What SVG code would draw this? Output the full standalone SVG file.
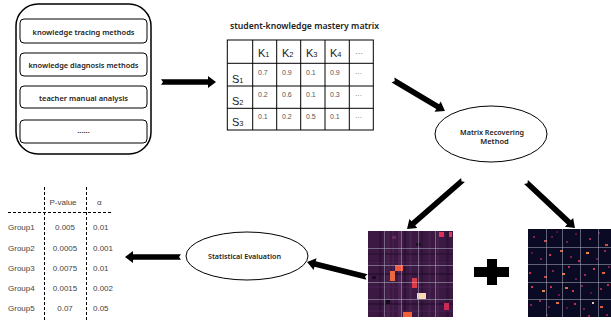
<svg xmlns="http://www.w3.org/2000/svg" width="611" height="320" viewBox="0 0 611 320">
<style>
.box{fill:#fff;stroke:#000;stroke-width:1}
.nt{font-family:"Noto Sans","DejaVu Sans",sans-serif;font-size:7.5px;font-weight:600;fill:#222;text-anchor:middle;dominant-baseline:central}
.mt{font-family:"Liberation Sans",Arial,sans-serif;fill:#222}
.hd{font-size:11px}
.sb{font-size:7.5px}
.val{font-family:"Liberation Sans",Arial,sans-serif;font-size:7px;fill:#555}
.tt{font-family:"Liberation Sans","Noto Sans CJK SC",sans-serif;font-size:8px;fill:#444;dominant-baseline:central}
.arr{fill:#000}
.grid{stroke:#b8b8c8;stroke-opacity:0.5;stroke-width:1}
.dash{stroke:#000;stroke-width:1;stroke-dasharray:3,2;fill:none}
.ml{stroke:#000;stroke-width:1;fill:none}
</style>

<g id="sources">
<rect x="16" y="4" width="135" height="150" rx="22" ry="22" fill="#fff" stroke="#000" stroke-width="1.5"/>
<rect class="box" x="20" y="19" width="127" height="24" rx="4"/>
<text class="nt" x="83.5" y="31.5" textLength="102" lengthAdjust="spacingAndGlyphs">knowledge tracing methods</text>
<rect class="box" x="20" y="53" width="127" height="23" rx="4"/>
<text class="nt" x="83.5" y="64.5" textLength="110" lengthAdjust="spacingAndGlyphs">knowledge diagnosis methods</text>
<rect class="box" x="20" y="86" width="127" height="22" rx="4"/>
<text class="nt" x="83.5" y="98" textLength="89" lengthAdjust="spacingAndGlyphs">teacher manual analysis</text>
<rect class="box" x="20" y="120" width="127" height="23" rx="4"/>
<text class="nt" x="83.5" y="130">......</text>
</g>

<g id="matrix">
<text x="230" y="25" font-family="'Noto Sans','DejaVu Sans',sans-serif" font-size="8.5px" font-weight="600" fill="#222" dominant-baseline="central" textLength="149" lengthAdjust="spacingAndGlyphs">student-knowledge mastery matrix</text>
<rect x="227.3" y="40" width="146" height="90" fill="#fff" stroke="#000" stroke-width="1"/>
<path class="ml" d="M252.7,40V130M276.7,40V130M300.7,40V130M325,40V130M349.3,40V130M227.3,63.3H373.3M227.3,86H373.3M227.3,108.3H373.3"/>
<g class="mt">
<text x="258" y="57"><tspan class="hd">K</tspan><tspan class="sb">1</tspan></text>
<text x="282" y="57"><tspan class="hd">K</tspan><tspan class="sb">2</tspan></text>
<text x="306" y="57"><tspan class="hd">K</tspan><tspan class="sb">3</tspan></text>
<text x="330" y="57"><tspan class="hd">K</tspan><tspan class="sb">4</tspan></text>
<text x="355" y="56" font-size="8" fill="#555">···</text>
<text x="232" y="83"><tspan class="hd">S</tspan><tspan class="sb">1</tspan></text>
<text x="232" y="105"><tspan class="hd">S</tspan><tspan class="sb">2</tspan></text>
<text x="232" y="126"><tspan class="hd">S</tspan><tspan class="sb">3</tspan></text>
</g>
<g class="val">
<text x="258" y="75">0.7</text><text x="282" y="75">0.9</text><text x="306" y="75">0.1</text><text x="330" y="75">0.9</text><text x="355" y="76">···</text>
<text x="258" y="97">0.2</text><text x="282" y="97">0.6</text><text x="306" y="97">0.1</text><text x="330" y="97">0.3</text><text x="355" y="98">···</text>
<text x="258" y="119">0.1</text><text x="282" y="119">0.2</text><text x="306" y="119">0.5</text><text x="330" y="119">0.1</text><text x="355" y="120">···</text>
</g>
</g>

<g id="recover">
<ellipse cx="491" cy="134" rx="56" ry="28" fill="#fff" stroke="#000" stroke-width="1"/>
<text class="nt" x="492" y="131.5" font-size="7px" textLength="64" lengthAdjust="spacingAndGlyphs">Matrix Recovering</text>
<text class="nt" x="494.5" y="141" font-size="7px">Method</text>
</g>

<g id="stat">
<ellipse cx="247" cy="256" rx="61" ry="24" fill="#fff" stroke="#000" stroke-width="1"/>
<text class="nt" x="244.5" y="255.5" font-size="7px" textLength="73" lengthAdjust="spacingAndGlyphs">Statistical Evaluation</text>
</g>

<g id="heatmap1">
<rect x="368" y="231" width="85" height="86" fill="#3b1942"/>
<rect x="379" y="231" width="3" height="86" fill="#301438"/>
<rect x="386" y="231" width="4" height="86" fill="#46204c"/>
<rect x="392" y="231" width="2" height="86" fill="#42204a"/>
<rect x="398" y="231" width="3" height="86" fill="#4c2352"/>
<rect x="404" y="231" width="2" height="86" fill="#2e1236"/>
<rect x="409" y="231" width="3" height="86" fill="#44204c"/>
<rect x="421" y="231" width="2" height="86" fill="#301438"/>
<rect x="428" y="231" width="3" height="86" fill="#42204a"/>
<rect x="437" y="231" width="2" height="86" fill="#46214e"/>
<rect x="446" y="231" width="3" height="86" fill="#301438"/>
<rect x="368" y="253" width="85" height="2" fill="#240e2e" opacity="0.5"/>
<rect x="368" y="262" width="85" height="1" fill="#50245a" opacity="0.5"/>
<rect x="368" y="273" width="85" height="2" fill="#1e0a28" opacity="0.5"/>
<rect x="368" y="286" width="85" height="2" fill="#50245a" opacity="0.4"/>
<rect x="368" y="303" width="85" height="2" fill="#200c2c" opacity="0.5"/>
<rect x="368" y="310" width="85" height="2" fill="#50245a" opacity="0.4"/>
<rect x="386" y="300" width="4" height="4" fill="#160a1e"/>
<rect x="372" y="276" width="4" height="3" fill="#1a0a22"/>
<rect x="416" y="243" width="5" height="3" fill="#1c0c24"/>
<rect x="392" y="236" width="4" height="3" fill="#6a2a5c"/>
<rect x="439" y="232" width="5" height="5" fill="#e0305a"/>
<rect x="449" y="232" width="3" height="5" fill="#d83a58"/>
<rect x="395" y="265" width="8" height="6" fill="#ef5a42"/>
<rect x="390" y="271" width="5" height="10" fill="#e9683e"/>
<rect x="412" y="278" width="5" height="10" fill="#de3a4a"/>
<rect x="417" y="293" width="9" height="6" fill="#f8d8b8"/>
<rect x="444" y="303" width="5" height="7" fill="#cc2a55"/>
<rect x="403" y="312" width="9" height="5" fill="#f06038"/>
<path class="grid" d="M384.5,231V317M401.5,231V317M418.5,231V317M435.5,231V317M368,248.5H453M368,265.5H453M368,282.5H453M368,299.5H453"/>
</g>

<g id="plus">
<rect x="474" y="267" width="35" height="10" fill="#000"/>
<rect x="487" y="259" width="10" height="26" fill="#000"/>
</g>

<g id="heatmap2">
<rect x="528" y="229" width="83" height="88" fill="#0b0a24"/>
<g>
<rect x="533" y="236" width="2" height="2" fill="#8a2050"/><rect x="544" y="240" width="3" height="2" fill="#c0504a"/><rect x="551" y="236" width="2" height="2" fill="#6a1a48"/><rect x="556" y="231" width="2" height="2" fill="#4a1040"/><rect x="566" y="241" width="2" height="2" fill="#7a1e4a"/><rect x="575" y="233" width="2" height="2" fill="#5a1444"/><rect x="589" y="238" width="2" height="2" fill="#a02850"/><rect x="598" y="232" width="2" height="2" fill="#6a1a48"/><rect x="605" y="244" width="3" height="2" fill="#d04a40"/>
<rect x="531" y="252" width="2" height="2" fill="#5a1444"/><rect x="540" y="258" width="2" height="2" fill="#8a2050"/><rect x="549" y="254" width="2" height="2" fill="#d03a50"/><rect x="560" y="250" width="3" height="2" fill="#e06040"/><rect x="570" y="256" width="2" height="2" fill="#7a1e4a"/><rect x="578" y="260" width="2" height="2" fill="#c0304a"/><rect x="586" y="252" width="3" height="2" fill="#f08848"/><rect x="596" y="258" width="2" height="2" fill="#6a1a48"/><rect x="604" y="250" width="2" height="2" fill="#a02850"/>
<rect x="529" y="272" width="2" height="2" fill="#c0304a"/><rect x="544" y="276" width="3" height="2" fill="#d04040"/><rect x="552" y="270" width="2" height="2" fill="#8a2050"/><rect x="562" y="273" width="3" height="2" fill="#f07040"/><rect x="568" y="266" width="2" height="2" fill="#c0304a"/><rect x="575" y="278" width="2" height="2" fill="#6a1a48"/><rect x="584" y="274" width="2" height="2" fill="#a02850"/><rect x="593" y="268" width="2" height="2" fill="#d03a50"/><rect x="602" y="272" width="3" height="2" fill="#e06040"/><rect x="608" y="266" width="2" height="2" fill="#7a1e4a"/>
<rect x="531" y="286" width="2" height="2" fill="#d03a50"/><rect x="542" y="290" width="3" height="2" fill="#e08848"/><rect x="550" y="286" width="2" height="2" fill="#c0304a"/><rect x="558" y="294" width="2" height="2" fill="#6a1a48"/><rect x="565" y="287" width="3" height="2" fill="#e07040"/><rect x="572" y="290" width="2" height="2" fill="#d03a50"/><rect x="581" y="285" width="2" height="2" fill="#8a2050"/><rect x="590" y="292" width="2" height="2" fill="#5a1444"/><rect x="600" y="288" width="2" height="2" fill="#a02850"/><rect x="607" y="284" width="2" height="2" fill="#c0304a"/>
<rect x="530" y="304" width="2" height="2" fill="#8a2050"/><rect x="539" y="300" width="2" height="2" fill="#a02850"/><rect x="548" y="306" width="2" height="2" fill="#6a1a48"/><rect x="556" y="302" width="3" height="2" fill="#e07040"/><rect x="566" y="307" width="2" height="2" fill="#5a1444"/><rect x="592" y="302" width="2" height="2" fill="#e0c8b0"/><rect x="583" y="308" width="2" height="2" fill="#7a1e4a"/><rect x="574" y="303" width="2" height="2" fill="#c0304a"/><rect x="600" y="306" width="3" height="2" fill="#d06040"/><rect x="606" y="314" width="2" height="2" fill="#8a2050"/><rect x="546" y="314" width="2" height="2" fill="#6a1a48"/><rect x="588" y="315" width="2" height="2" fill="#a02850"/>
</g>
<path class="grid" d="M546.5,229V317M562.5,229V317M580.5,229V317M598.5,229V317M528,247.5H611M528,264.5H611M528,282.5H611M528,299.5H611"/>
</g>

<g id="pvalues">
<path class="dash" d="M44.5,187V320M86.5,187V320M8,212.5H113"/>
<text class="tt" x="63" y="202" text-anchor="middle">P-value</text>
<text class="tt" x="97" y="202">α</text>
<text class="tt" x="8" y="227">Group1</text><text class="tt" x="65" y="227" text-anchor="middle">0.005</text><text class="tt" x="93" y="227">0.01</text>
<text class="tt" x="8" y="248">Group2</text><text class="tt" x="65" y="248" text-anchor="middle">0.0005</text><text class="tt" x="93" y="248">0.001</text>
<text class="tt" x="8" y="268">Group3</text><text class="tt" x="65" y="268" text-anchor="middle">0.0075</text><text class="tt" x="93" y="268">0.01</text>
<text class="tt" x="8" y="288">Group4</text><text class="tt" x="65" y="288" text-anchor="middle">0.0015</text><text class="tt" x="93" y="288">0.002</text>
<text class="tt" x="8" y="308">Group5</text><text class="tt" x="65" y="308" text-anchor="middle">0.07</text><text class="tt" x="93" y="308">0.05</text>
</g>

<g id="connectors" class="arr">
<polygon transform="translate(161,82) rotate(0)" points="0,-2.8 47,-2.8 47,-6 55,0 47,6 47,2.8 0,2.8 2,0"/>
<polygon transform="translate(393,80) rotate(30.8)" points="0,-2.8 52,-2.8 52,-6 60.5,0 52,6 52,2.8 0,2.8 2,0"/>
<polygon transform="translate(463,180) rotate(138.8)" points="0,-2.8 66,-2.8 66,-6 74.4,0 66,6 66,2.8 0,2.8 2,0"/>
<polygon transform="translate(526,182) rotate(43.2)" points="0,-2.8 59,-2.8 59,-6 67.2,0 59,6 59,2.8 0,2.8 2,0"/>
<polygon transform="translate(367,277) rotate(194)" points="0,-2.8 53.5,-2.8 53.5,-6 61.8,0 53.5,6 53.5,2.8 0,2.8 2,0"/>
<polygon transform="translate(181,257) rotate(180)" points="0,-2.8 48,-2.8 48,-6 56,0 48,6 48,2.8 0,2.8 2,0"/>
</g>
</svg>
